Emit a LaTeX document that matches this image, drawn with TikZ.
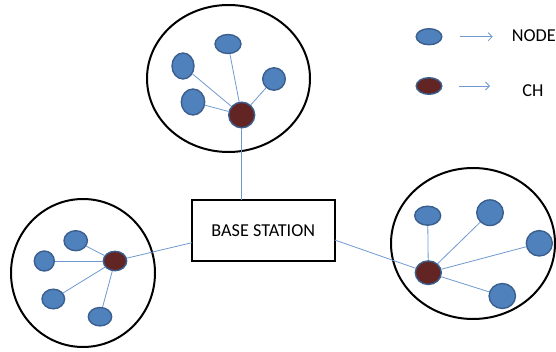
\documentclass[tikz,border=0pt]{standalone}
\usepackage{fontspec}
\setmainfont{Carlito}
\usetikzlibrary{shapes.geometric,arrows.meta}
\definecolor{nodeblue}{HTML}{4F81BD}
\definecolor{nodeedge}{HTML}{3A5F8E}
\definecolor{chred}{HTML}{632523}
\definecolor{linkblue}{HTML}{6F99D0}
\begin{document}
\begin{tikzpicture}[x=1pt,y=-1pt,
  cluster/.style={draw=black,line width=2pt,fill=none},
  nd/.style={ellipse,draw=nodeedge,line width=1.4pt,fill=nodeblue,inner sep=0pt},
  chn/.style={ellipse,draw=nodeedge,line width=1.4pt,fill=chred,inner sep=0pt},
  link/.style={draw=linkblue,line width=0.8pt},
  larrow/.style={draw=linkblue,line width=0.8pt,-{Straight Barb[length=4pt,width=8pt]}},
  bs/.style={draw=black,line width=1.8pt,fill=white,minimum width=143pt,minimum height=61pt,inner sep=0pt},
  lbl/.style={font=\fontsize{18.2}{21}\selectfont,inner sep=0pt}]
\useasboundingbox (0,0) rectangle (556,352);
% clusters
\draw[cluster] (228.5,78.5) ellipse [x radius=81.5, y radius=73.5];
\draw[cluster] (83,273) ellipse [x radius=72, y radius=74];
\draw[cluster] (473,243.5) ellipse [x radius=82, y radius=75.5];
% base station
\node[bs,lbl] (bs) at (263.3,230.8) {BASE STATION};
% top cluster
\node[chn,minimum width=26pt,minimum height=25.6pt] (cht) at (241.7,115) {};
\node[nd,minimum width=26pt,minimum height=19pt] (t1) at (228,44) {};
\node[nd,minimum width=22pt,minimum height=26pt] (t2) at (183,66) {};
\node[nd,minimum width=22.6pt,minimum height=22.4pt] (t3) at (274,79) {};
\node[nd,minimum width=23.4pt,minimum height=26pt] (t4) at (193,102) {};
% left cluster
\node[chn,minimum width=23.4pt,minimum height=19.4pt] (chl) at (115,261) {};
\node[nd,minimum width=23.4pt,minimum height=20pt] (l1) at (75.7,240.7) {};
\node[nd,minimum width=20pt,minimum height=20pt] (l2) at (44.3,261) {};
\node[nd,minimum width=22.6pt,minimum height=19.6pt] (l3) at (53.3,299) {};
\node[nd,minimum width=23.4pt,minimum height=18.4pt] (l4) at (100,316.7) {};
% right cluster
\node[chn,minimum width=26pt,minimum height=23.6pt] (chr) at (428.3,272.7) {};
\node[nd,minimum width=26pt,minimum height=19pt] (r1) at (427.7,215.7) {};
\node[nd,minimum width=26.6pt,minimum height=25.6pt] (r2) at (490,212.7) {};
\node[nd,minimum width=26pt,minimum height=25.4pt] (r3) at (539.3,243.3) {};
\node[nd,minimum width=26.4pt,minimum height=25pt] (r4) at (502.3,296) {};
% links
\foreach \n in {t1,t2,t3,t4} \draw[link] (cht) -- (\n);
\foreach \n in {l1,l2,l3,l4} \draw[link] (chl) -- (\n);
\foreach \n in {r1,r2,r3,r4} \draw[link] (chr) -- (\n);
\coordinate (bst) at (241.7,200);
\coordinate (bsl) at (191.8,242.7);
\coordinate (bsr) at (334.8,240);
\draw[link] (cht) -- (bst);
\draw[link] (chl) -- (bsl);
\draw[link] (chr) -- (bsr);
% legend
\node[nd,minimum width=25.6pt,minimum height=16pt] (lgn) at (429,36.7) {};
\node[chn,minimum width=25.6pt,minimum height=16.6pt] (lgc) at (429,86) {};
\coordinate (a1s) at (460,36.7);
\coordinate (a1e) at (492.7,36.7);
\coordinate (a2s) at (459,86);
\coordinate (a2e) at (490,86);
\draw[larrow] (a1s) -- (a1e);
\draw[larrow] (a2s) -- (a2e);
\node[lbl,anchor=west] (tnode) at (511.7,36) {NODE};
\node[lbl] (tch) at (533,91) {CH};
\end{tikzpicture}
\end{document}
